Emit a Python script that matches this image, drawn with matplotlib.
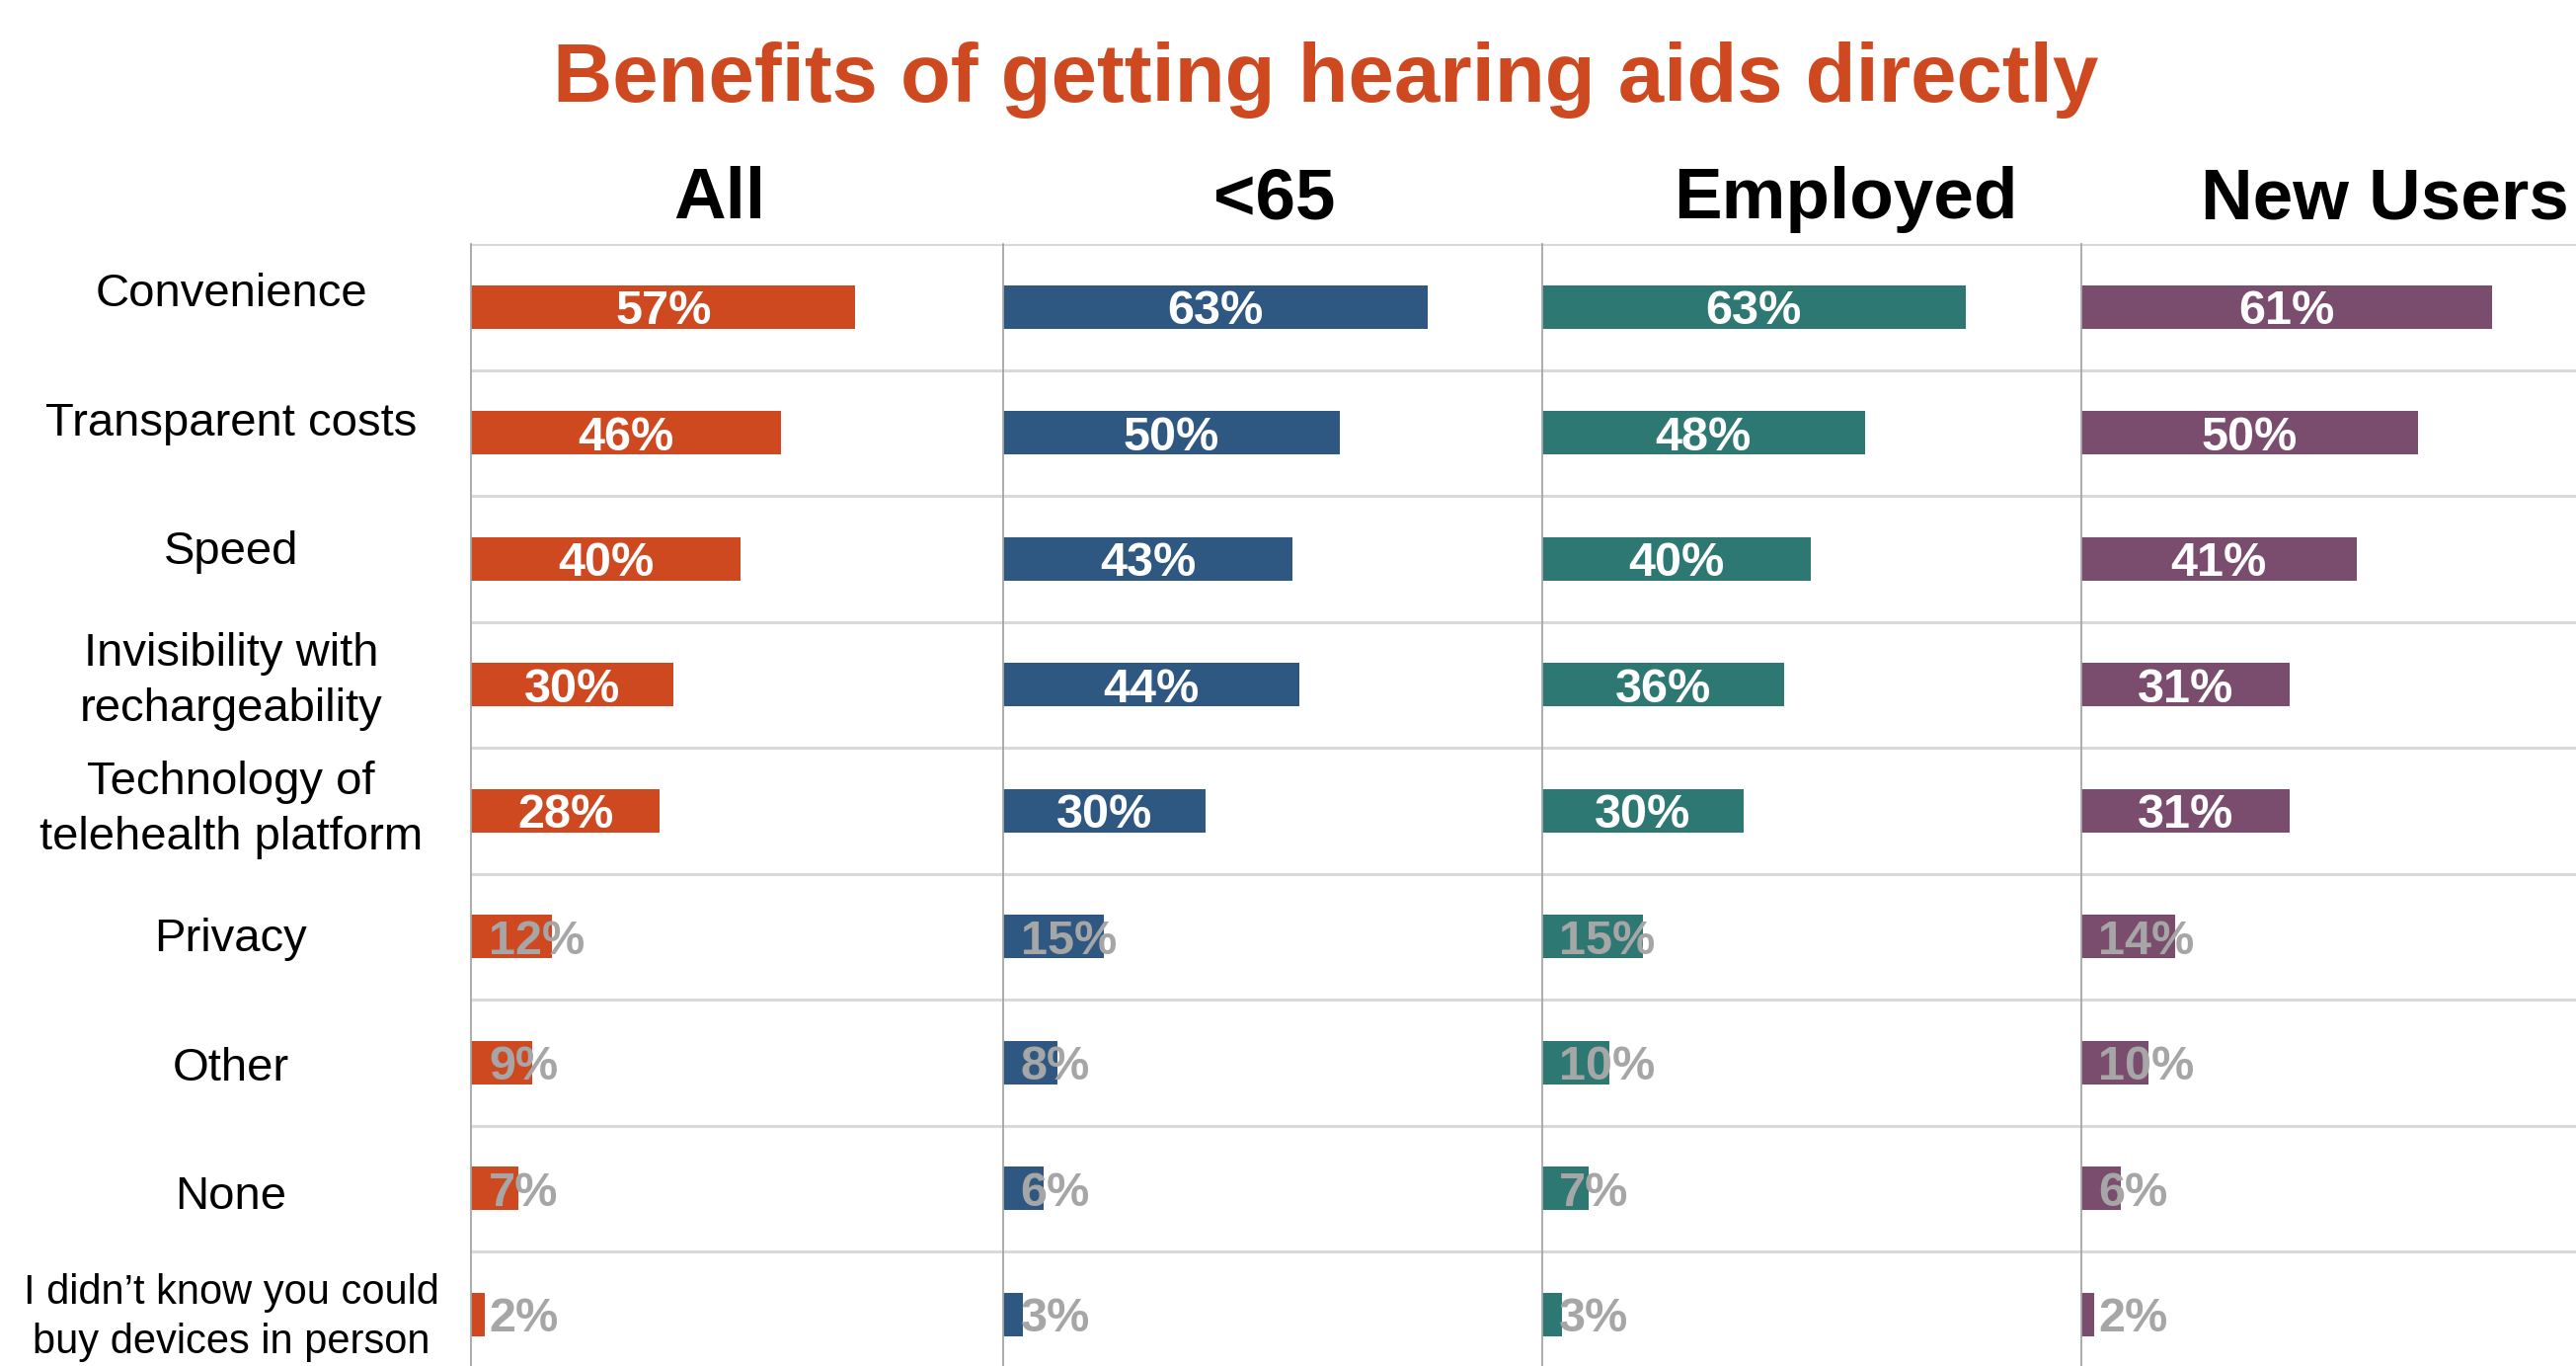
import matplotlib.pyplot as plt

plt.rcParams['font.family'] = ['Liberation Sans', 'DejaVu Sans']

# data
title = "Benefits of getting hearing aids directly"
categories = ["Convenience", "Transparent costs", "Speed",
              "Invisibility with\nrechargeability",
              "Technology of\ntelehealth platform",
              "Privacy", "Other", "None",
              "I didn\u2019t know you could\nbuy devices in person"]
groups = ["All", "<65", "Employed", "New Users"]
all_vals = [57, 46, 40, 30, 28, 12, 9, 7, 2]
under65_vals = [63, 50, 43, 44, 30, 15, 8, 6, 3]
employed_vals = [63, 48, 40, 36, 30, 15, 10, 7, 3]
new_users_vals = [61, 50, 41, 31, 31, 14, 10, 6, 2]
series = [all_vals, under65_vals, employed_vals, new_users_vals]
colors = ["#CF4920", "#2E5781", "#2D7873", "#7A4C6E"]

# layout in pixels of the 2609x1383 canvas
W, H = 2609, 1383
top = 247
row_h = 127.5
nrows = len(categories)
bottom = top + nrows * row_h
lefts = [477.5, 1016, 1561.5, 2107.5]
rights = lefts[1:] + [2107.5 + 546]
px_per_pct = 6.82
header_x = [729, 1291, 1869, 2415]

fig = plt.figure(figsize=(W / 100, H / 100), dpi=100)

for k, (vals, col) in enumerate(zip(series, colors)):
    l, r = lefts[k], rights[k]
    ax = fig.add_axes([l / W, 1 - bottom / H, (r - l) / W, (bottom - top) / H])
    ax.set_xlim(0, (r - l) / px_per_pct)
    ax.set_ylim(nrows, 0)
    for y in range(nrows + 1):
        ax.axhline(y, color='#D9D9D9', lw=2.2, zorder=0)
    ypos = [j + 0.5 for j in range(nrows)]
    ax.barh(ypos, vals, height=0.345, color=col, zorder=2)
    for y, v in zip(ypos, vals):
        if v >= 20:
            ax.text(v / 2, y, f"{v}%", ha='center', va='center_baseline',
                    color='white', fontsize=35, fontweight='bold', zorder=3)
        else:
            ax.text(2.6, y, f"{v}%", ha='left', va='center_baseline',
                    color='#A6A6A6', fontsize=35, fontweight='bold', zorder=3)
    for s in ['top', 'right', 'bottom']:
        ax.spines[s].set_visible(False)
    ax.spines['left'].set_color('#A6A6A6')
    ax.spines['left'].set_linewidth(1.3)
    ax.spines['left'].set_zorder(4)
    ax.set_xticks([])
    ax.set_yticks([])
    ax.patch.set_alpha(0)

# row labels
for i, cat in enumerate(categories):
    fs = 30 if i == nrows - 1 else 34
    y = 298 + i * 130.6 if i < nrows - 1 else 298 + i * 129.5
    fig.text(234 / W, 1 - y / H, cat, ha='center', va='center',
             fontsize=fs, linespacing=1.35)

# group headers
for g, x in zip(groups, header_x):
    fig.text(x / W, 1 - 221 / H, g, ha='center', va='baseline',
             fontsize=52.5, fontweight='bold')

fig.text(1343 / W, 1 - 103 / H, title, ha='center', va='baseline',
         fontsize=60, fontweight='bold', color='#CF4920')

fig.savefig('out.png', dpi=100)
